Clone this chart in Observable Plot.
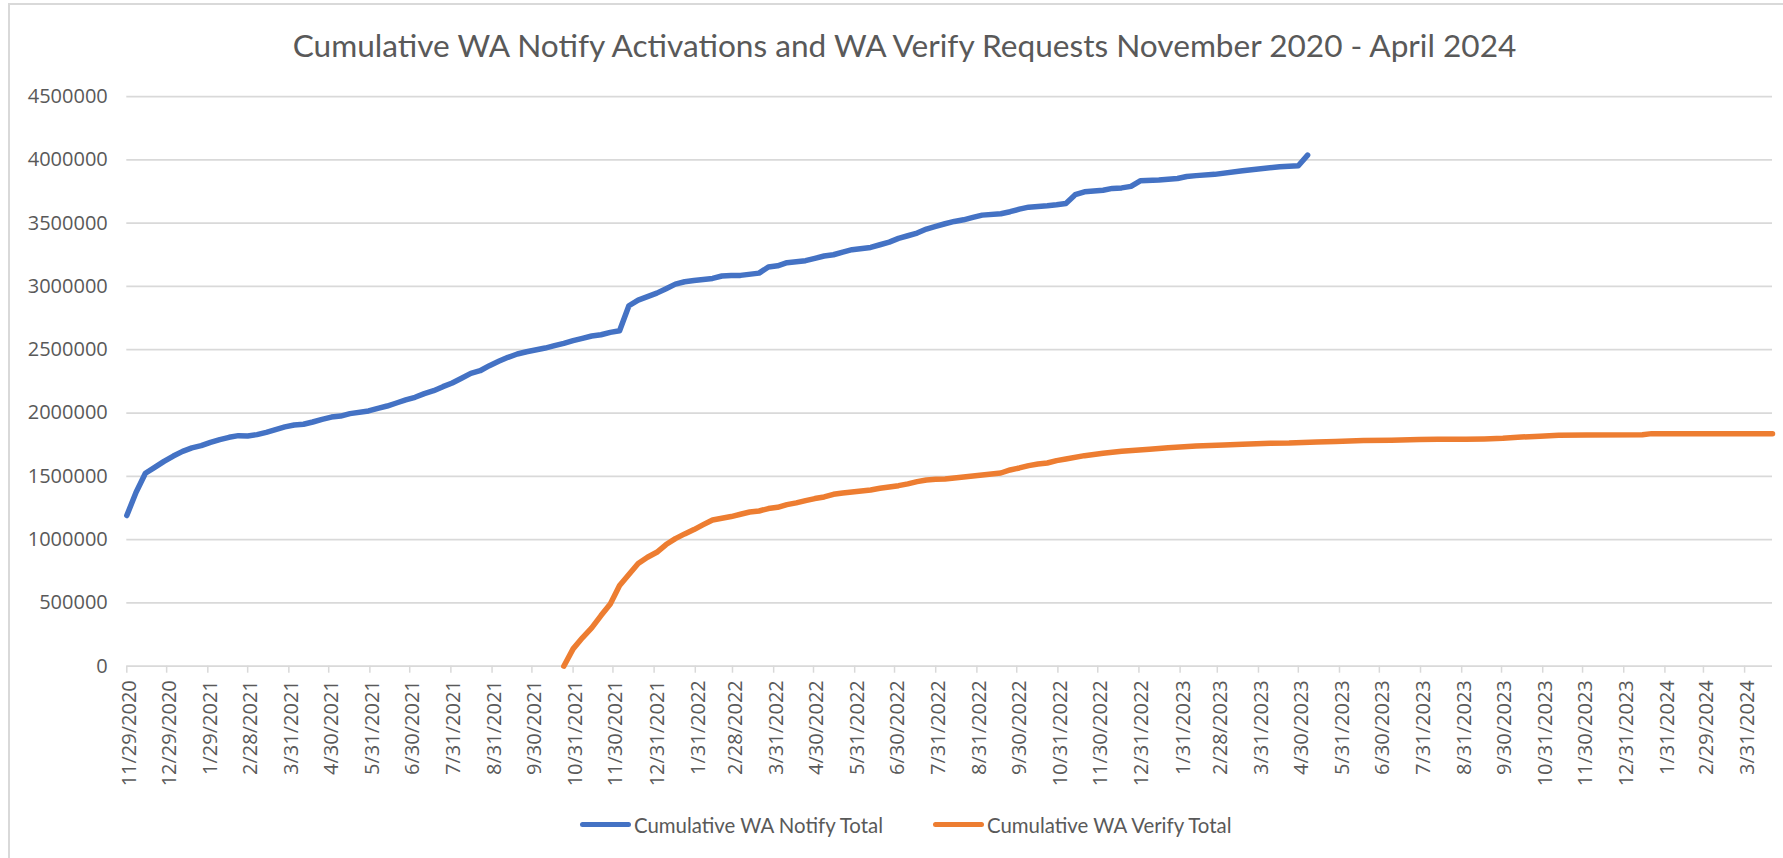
<!DOCTYPE html>
<html>
<head>
<meta charset="utf-8">
<script src="https://cdn.jsdelivr.net/npm/d3@7"></script>
<script src="https://cdn.jsdelivr.net/npm/@observablehq/plot@0.6"></script>
<style>
  html, body { margin: 0; padding: 0; background: #ffffff; }
  #chart { position: relative; width: 1783px; height: 858px; overflow: hidden; background: #fff;
           font-family: Lato, "Open Sans", sans-serif; color: #595959; }
  #frame { position: absolute; left: 8px; top: 3px; width: 1800px; height: 900px;
           border-left: 2px solid #d9d9d9; border-top: 2px solid #d9d9d9; }
  #title { position: absolute; left: 192px; width: 1425px; top: 29px; text-align: center;
           white-space: nowrap; font-size: 31.6px; line-height: 32px; color: #595959; }
  #plot { position: absolute; left: 0; top: 70px; }
  .leg { position: absolute; top: 811.5px; display: flex; align-items: center; white-space: nowrap;
         font-size: 20.4px; line-height: 26px; color: #595959; }
  .sw { width: 51px; height: 5px; border-radius: 3px; margin-right: 3px; }
</style>
</head>
<body>
<div id="chart">
  <div id="frame"></div>
  <div id="title"></div>
  <div id="plot"></div>
  <div class="leg" id="leg1" style="left:580px"><div class="sw" id="sw1"></div><span id="lt1"></span></div>
  <div class="leg" id="leg2" style="left:933px"><div class="sw" id="sw2"></div><span id="lt2"></span></div>
</div>
<script>
const titleText = "Cumulative WA Notify Activations and WA Verify Requests November 2020 - April 2024";
const seriesNames = ["Cumulative WA Notify Total", "Cumulative WA Verify Total"];
const seriesColors = ["#4472C4", "#ED7D31"];

const yTicks = [0, 500000, 1000000, 1500000, 2000000, 2500000, 3000000, 3500000, 4000000, 4500000];

const xTickLabels = [
  "11/29/2020","12/29/2020","1/29/2021","2/28/2021","3/31/2021","4/30/2021","5/31/2021","6/30/2021",
  "7/31/2021","8/31/2021","9/30/2021","10/31/2021","11/30/2021","12/31/2021","1/31/2022","2/28/2022",
  "3/31/2022","4/30/2022","5/31/2022","6/30/2022","7/31/2022","8/31/2022","9/30/2022","10/31/2022",
  "11/30/2022","12/31/2022","1/31/2023","2/28/2023","3/31/2023","4/30/2023","5/31/2023","6/30/2023",
  "7/31/2023","8/31/2023","9/30/2023","10/31/2023","11/30/2023","12/31/2023","1/31/2024","2/29/2024",
  "3/31/2024"
];

const notifyTotal = [
  ["2020-11-29",1190000],["2020-12-06",1374000],["2020-12-13",1524000],["2020-12-20",1571000],["2020-12-27",1618000],
  ["2021-01-03",1660000],["2021-01-10",1697000],["2021-01-17",1724000],["2021-01-24",1742000],["2021-01-31",1768000],
  ["2021-02-07",1790000],["2021-02-14",1808000],["2021-02-21",1821000],["2021-02-28",1818000],
  ["2021-03-07",1829000],["2021-03-14",1847000],["2021-03-21",1868000],["2021-03-28",1890000],
  ["2021-04-04",1905000],["2021-04-11",1911000],["2021-04-18",1929000],["2021-04-25",1950000],
  ["2021-05-02",1968000],["2021-05-09",1976000],["2021-05-16",1995000],["2021-05-30",2016000],
  ["2021-06-06",2037000],["2021-06-13",2055000],["2021-06-20",2079000],["2021-06-27",2103000],
  ["2021-07-04",2124000],["2021-07-11",2153000],["2021-07-18",2176000],["2021-07-25",2208000],
  ["2021-08-01",2237000],["2021-08-08",2274000],["2021-08-15",2313000],["2021-08-22",2334000],["2021-08-29",2374000],
  ["2021-09-05",2408000],["2021-09-12",2440000],["2021-09-19",2466000],["2021-09-26",2484000],
  ["2021-10-10",2513000],["2021-10-17",2532000],["2021-10-24",2550000],["2021-10-31",2571000],
  ["2021-11-07",2590000],["2021-11-14",2608000],["2021-11-21",2618000],["2021-11-28",2637000],
  ["2021-12-05",2650000],["2021-12-12",2847000],["2021-12-19",2892000],
  ["2022-01-02",2947000],["2022-01-09",2982000],["2022-01-16",3018000],["2022-01-23",3037000],["2022-01-30",3047000],
  ["2022-02-13",3063000],["2022-02-20",3082000],["2022-02-27",3087000],
  ["2022-03-06",3087000],["2022-03-20",3105000],["2022-03-27",3153000],
  ["2022-04-03",3163000],["2022-04-10",3187000],["2022-04-24",3203000],
  ["2022-05-01",3221000],["2022-05-08",3240000],["2022-05-15",3250000],["2022-05-22",3271000],["2022-05-29",3290000],
  ["2022-06-12",3308000],["2022-06-19",3329000],["2022-06-26",3350000],
  ["2022-07-03",3379000],["2022-07-10",3400000],["2022-07-17",3421000],["2022-07-24",3453000],["2022-07-31",3474000],
  ["2022-08-07",3495000],["2022-08-14",3513000],["2022-08-21",3526000],["2022-08-28",3545000],
  ["2022-09-04",3563000],["2022-09-18",3574000],["2022-09-25",3590000],
  ["2022-10-02",3610000],["2022-10-09",3626000],["2022-10-23",3637000],["2022-10-30",3645000],
  ["2022-11-06",3655000],["2022-11-13",3724000],["2022-11-20",3747000],
  ["2022-12-04",3760000],["2022-12-11",3774000],["2022-12-18",3778000],["2022-12-25",3790000],
  ["2023-01-01",3834000],["2023-01-15",3840000],["2023-01-29",3852000],
  ["2023-02-05",3868000],["2023-02-12",3875000],["2023-02-26",3885000],
  ["2023-03-19",3913000],["2023-04-16",3945000],["2023-04-30",3953000],["2023-05-07",4037000]
];

const verifyTotal = [
  ["2021-10-24",0],["2021-10-31",137000],["2021-11-07",224000],["2021-11-14",303000],["2021-11-21",400000],
  ["2021-11-28",492000],["2021-12-05",637000],["2021-12-12",724000],["2021-12-19",811000],["2021-12-26",861000],
  ["2022-01-02",900000],["2022-01-09",961000],["2022-01-16",1008000],["2022-01-23",1045000],["2022-01-30",1079000],
  ["2022-02-06",1118000],["2022-02-13",1155000],["2022-02-27",1182000],
  ["2022-03-06",1200000],["2022-03-13",1218000],["2022-03-20",1226000],["2022-03-27",1245000],
  ["2022-04-03",1255000],["2022-04-10",1276000],["2022-04-17",1290000],["2022-04-24",1308000],
  ["2022-05-01",1324000],["2022-05-08",1337000],["2022-05-15",1358000],["2022-05-22",1368000],["2022-05-29",1376000],
  ["2022-06-12",1392000],["2022-06-19",1405000],["2022-06-26",1416000],
  ["2022-07-03",1426000],["2022-07-10",1440000],["2022-07-17",1458000],["2022-07-24",1471000],["2022-07-31",1476000],
  ["2022-08-07",1479000],["2022-08-14",1487000],["2022-08-21",1495000],["2022-08-28",1503000],
  ["2022-09-04",1511000],["2022-09-18",1526000],["2022-09-25",1550000],
  ["2022-10-02",1566000],["2022-10-09",1584000],["2022-10-16",1597000],["2022-10-23",1605000],["2022-10-30",1624000],
  ["2022-11-06",1637000],["2022-11-20",1663000],["2022-12-04",1682000],["2022-12-18",1697000],
  ["2023-01-08",1713000],["2023-01-22",1726000],["2023-02-12",1740000],["2023-03-05",1747000],["2023-03-19",1753000],
  ["2023-04-09",1761000],["2023-04-23",1763000],["2023-05-14",1771000],["2023-05-28",1774000],
  ["2023-06-18",1782000],["2023-07-09",1784000],["2023-07-30",1790000],["2023-08-13",1792000],
  ["2023-09-03",1792000],["2023-09-17",1795000],["2023-10-01",1800000],["2023-10-15",1810000],
  ["2023-10-29",1817000],["2023-11-12",1824000],["2023-12-03",1826000],
  ["2024-01-14",1829000],["2024-01-21",1837000],["2024-02-25",1837000],["2024-04-21",1837000]
];

const toRows = (arr) => arr.map(([d, v]) => ({date: new Date(d + "T00:00:00Z"), value: v}));
const notifyRows = toRows(notifyTotal);
const verifyRows = toRows(verifyTotal);

const parseMDY = (s) => { const [m, d, y] = s.split("/").map(Number); return new Date(Date.UTC(y, m - 1, d)); };
const xTicks = xTickLabels.map(parseMDY);
const fmtMDY = (d) => `${d.getUTCMonth() + 1}/${d.getUTCDate()}/${d.getUTCFullYear()}`;

const xDomain = [notifyRows[0].date, verifyRows[verifyRows.length - 1].date];

const tickFont = "'Open Sans', Lato, sans-serif";

const plot = Plot.plot({
  width: 1783,
  height: 730,
  marginLeft: 126.3,
  marginRight: 11,
  marginTop: 26,
  marginBottom: 134.3,
  style: {fontFamily: tickFont, fontSize: "20px", color: "#595959", background: "transparent"},
  x: {type: "utc", domain: xDomain},
  y: {domain: [0, 4500000]},
  marks: [
    Plot.gridY(yTicks, {stroke: "#d9d9d9", strokeOpacity: 1, strokeWidth: 1.75}),
    Plot.axisY({ticks: yTicks, tickSize: 0, tickPadding: 19, tickFormat: d3.format("d"), label: null,
                fontSize: 20, fontFamily: tickFont}),
    Plot.axisX({ticks: xTicks, tickFormat: fmtMDY, tickRotate: -90, tickSize: 7, tickPadding: 7,
                stroke: "#d9d9d9", strokeWidth: 1.5, label: null, fontSize: 20, fontFamily: tickFont}),
    Plot.line(verifyRows, {x: "date", y: "value", stroke: seriesColors[1], strokeWidth: 5.5,
                           strokeLinejoin: "round", strokeLinecap: "round"}),
    Plot.line(notifyRows, {x: "date", y: "value", stroke: seriesColors[0], strokeWidth: 5.5,
                           strokeLinejoin: "round", strokeLinecap: "round"})
  ]
});
document.getElementById("plot").appendChild(plot);

// nudge rotated x tick labels slightly right, as in the reference
const xLab = plot.querySelector('g[aria-label="x-axis tick label"]');
if (xLab) xLab.setAttribute("transform", `translate(3,0) ${xLab.getAttribute("transform") || ""}`);

document.getElementById("title").textContent = titleText;
document.getElementById("lt1").textContent = seriesNames[0];
document.getElementById("lt2").textContent = seriesNames[1];
document.getElementById("sw1").style.background = seriesColors[0];
document.getElementById("sw2").style.background = seriesColors[1];
</script>
</body>
</html>
